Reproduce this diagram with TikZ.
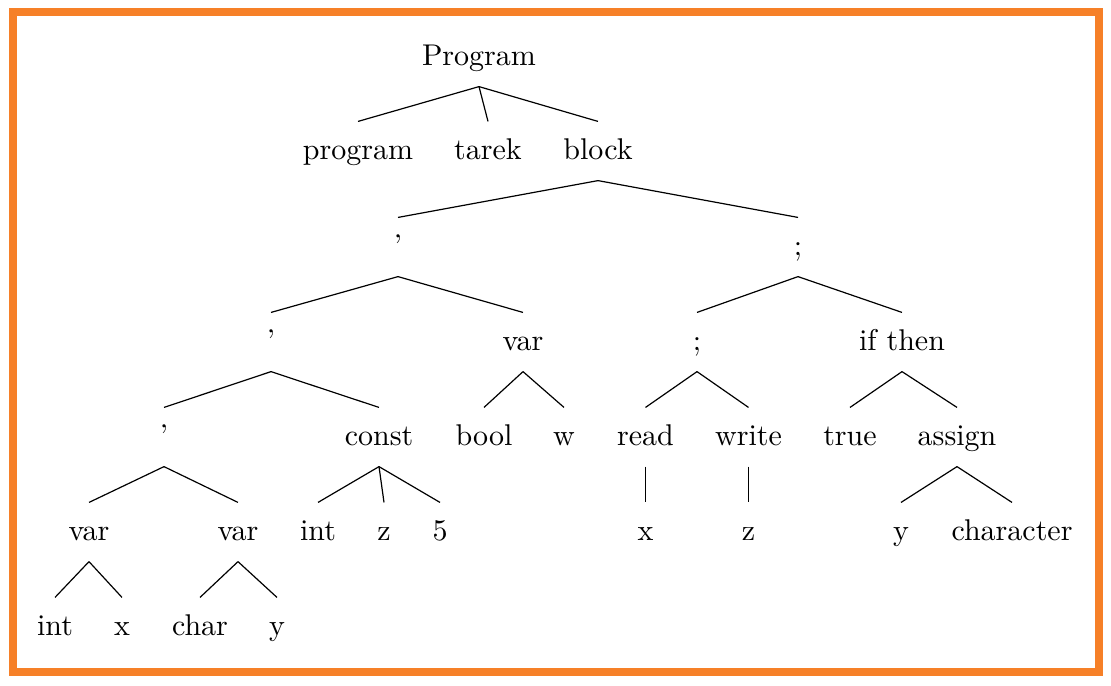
\documentclass[tikz,border=0pt]{standalone}
\definecolor{frameorange}{RGB}{246,128,40}
\begin{document}
\begin{tikzpicture}[x=0.33333pt,y=-0.33333pt,
  t/.style={anchor=base,inner sep=0pt,text height=12.33pt,text depth=7pt},
  edge/.style={line width=0.4pt,black}]
\useasboundingbox (0,0) rectangle (1111,685);
\draw[frameorange,line width=2.67pt] (13,12) rectangle (1099,672);
% level 0
\node[t] (P) at (479,65) {Program};
% level 1
\node[t] (n1a) at (358,159) {program};
\node[t] (n1b) at (488,159) {tarek};
\node[t] (n1c) at (598,159) {block};
% level 2
\node[t] (n2a) at (398,255) {'};
\node[t] (n2b) at (798,255) {;};
% level 3
\node[t] (n3a) at (271,350) {'};
\node[t] (n3b) at (523,350) {var};
\node[t] (n3c) at (697,350) {;};
\node[t] (n3d) at (902,350) {if then};
% level 4
\node[t] (n4a) at (164,445) {'};
\node[t] (n4b) at (379,445) {const};
\node[t] (n4c) at (484,445) {bool};
\node[t] (n4d) at (564,445) {w};
\node[t] (n4e) at (645.5,445) {read};
\node[t] (n4f) at (748.5,445) {write};
\node[t] (n4g) at (850,445) {true};
\node[t] (n4h) at (957,445) {assign};
% level 5
\node[t] (n5a) at (89,540) {var};
\node[t] (n5b) at (238,540) {var};
\node[t] (n5c) at (318,540) {int};
\node[t] (n5d) at (384,540) {z};
\node[t] (n5e) at (440,540) {5};
\node[t] (n5f) at (645.5,540) {x};
\node[t] (n5g) at (748.5,540) {z};
\node[t] (n5h) at (901,540) {y};
\node[t] (n5i) at (1012,540) {character};
% level 6
\node[t] (n6a) at (55,635) {int};
\node[t] (n6b) at (122,635) {x};
\node[t] (n6c) at (200,635) {char};
\node[t] (n6d) at (277,635) {y};
% edges
\foreach \p/\c in {P/n1a,P/n1b,P/n1c,
  n1c/n2a,n1c/n2b,
  n2a/n3a,n2a/n3b,n2b/n3c,n2b/n3d,
  n3a/n4a,n3a/n4b,n3b/n4c,n3b/n4d,n3c/n4e,n3c/n4f,n3d/n4g,n3d/n4h,
  n4a/n5a,n4a/n5b,n4b/n5c,n4b/n5d,n4b/n5e,n4e/n5f,n4f/n5g,n4h/n5h,n4h/n5i,
  n5a/n6a,n5a/n6b,n5b/n6c,n5b/n6d}
  \draw[edge] (\p.south) -- (\c.north);
\end{tikzpicture}
\end{document}
